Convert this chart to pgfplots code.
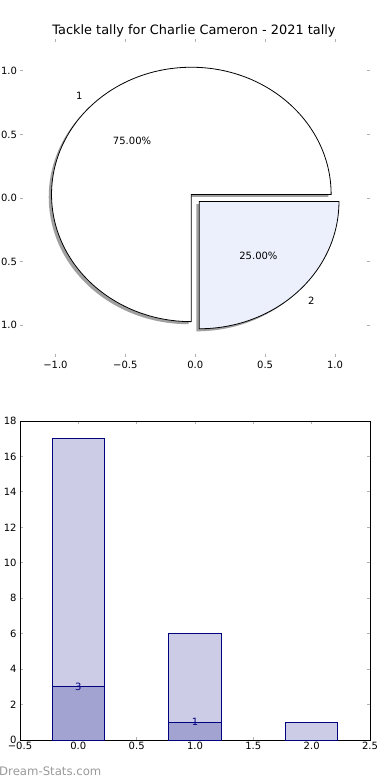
\documentclass[border=0pt]{standalone}
\usepackage{pgfplots}
\pgfplotsset{compat=1.18}
\usepackage{fontspec}
\setmainfont{DejaVu Sans}
\definecolor{navy}{HTML}{000080}
\definecolor{lightbar}{HTML}{CCCCE6}
\definecolor{darkbar}{HTML}{A3A3D1}
\definecolor{slicetwo}{HTML}{EBF0FC}
\definecolor{tickgray}{HTML}{B0B0B0}
\definecolor{shadowgray}{HTML}{A0A0A0}
\definecolor{wmgray}{HTML}{999999}
\begin{document}
\begin{tikzpicture}
\useasboundingbox (0bp,0bp) rectangle (390bp,-780bp);
\node[font=\fontsize{12.9bp}{15bp}\selectfont, anchor=base] at (194bp,-34bp) {Tackle tally for Charlie Cameron - 2021 tally};

\begin{axis}[
 at={(20.5bp,-357bp)}, anchor=south west, scale only axis,
 width=349.5bp, height=318bp,
 xmin=-1.25, xmax=1.25, ymin=-1.25, ymax=1.25,
 axis line style={draw=none},
 tick align=inside, major tick length=3bp,
 tick style={tickgray, line width=1bp},
 xtick={-1,-0.5,0,0.5,1}, xticklabels={−1.0,−0.5,0.0,0.5,1.0},
 ytick={-1,-0.5,0,0.5,1}, yticklabels={−1.0,−0.5,0.0,0.5,1.0},
 ticklabel style={font=\fontsize{10bp}{12bp}\selectfont},
 xticklabel style={yshift=-1bp},
 clip=false,
]
% shadows
\fill[shadowgray] (axis cs:-0.048,0.008) -- (axis cs:0.952,0.008) arc[start angle=0, end angle=270, x radius=1, y radius=1] -- cycle;
\fill[shadowgray] (axis cs:0.008,-0.048) -- (axis cs:0.008,-1.048) arc[start angle=270, end angle=360, x radius=1, y radius=1] -- cycle;
% wedges
\filldraw[fill=white, draw=black, line width=0.8bp] (axis cs:-0.028,0.028) -- (axis cs:0.972,0.028) arc[start angle=0, end angle=270, x radius=1, y radius=1] -- cycle;
\filldraw[fill=slicetwo, draw=black, line width=0.8bp] (axis cs:0.028,-0.028) -- (axis cs:0.028,-1.028) arc[start angle=270, end angle=360, x radius=1, y radius=1] -- cycle;
% labels
\node[anchor=east, inner sep=0pt, font=\fontsize{10bp}{12bp}\selectfont] at (axis cs:-0.806,0.806) {1};
\node[anchor=west, inner sep=0pt, font=\fontsize{10bp}{12bp}\selectfont] at (axis cs:0.806,-0.806) {2};
\node[inner sep=0pt, font=\fontsize{10bp}{12bp}\selectfont] at (axis cs:-0.452,0.452) {75.00\%};
\node[inner sep=0pt, font=\fontsize{10bp}{12bp}\selectfont] at (axis cs:0.452,-0.452) {25.00\%};
\end{axis}

\begin{axis}[
 at={(20bp,-740bp)}, anchor=south west, scale only axis,
 width=350bp, height=319bp,
 xmin=-0.5, xmax=2.5, ymin=0, ymax=18,
 axis line style={black, line width=1bp},
 tick align=inside, major tick length=3bp,
 tick style={tickgray, line width=1bp},
 /pgf/number format/assume math mode=true,
 xtick={-0.5,0,0.5,1,1.5,2,2.5}, xticklabels={−0.5,0.0,0.5,1.0,1.5,2.0,2.5},
 ytick={0,2,4,6,8,10,12,14,16,18},
 yticklabels={0,2,4,6,8,10,12,14,16,18},
 ticklabel style={font=\fontsize{10bp}{12bp}\selectfont},
 xticklabel style={yshift=1bp},
 clip=false,
]
\addplot[ybar, bar width=0.45, bar shift=0pt, fill=lightbar, draw=navy, line width=1bp] coordinates {(0,17) (1,6) (2,1)};
\addplot[ybar, bar width=0.45, bar shift=0pt, fill=darkbar, draw=navy, line width=1bp,
  nodes near coords, every node near coord/.append style={anchor=center, inner sep=0pt, text=navy, font=\fontsize{10bp}{12bp}\selectfont}] coordinates {(0,3) (1,1)};
\end{axis}

\node[anchor=base west, inner sep=0pt, text=wmgray, font=\fontsize{11.7bp}{14bp}\selectfont] at (-1bp,-775bp) {Dream-Stats.com};
\end{tikzpicture}
\end{document}
